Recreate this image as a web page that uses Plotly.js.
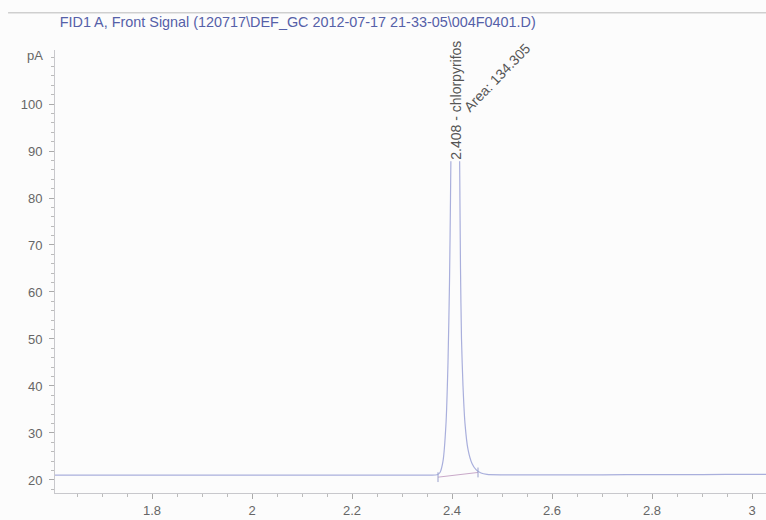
<!DOCTYPE html>
<html>
<head>
<meta charset="utf-8">
<script src="https://cdn.plot.ly/plotly-3.0.1.min.js"></script>
<style>html,body{margin:0;padding:0;background:#fcfcfc;}#chart{width:766px;height:520px;}</style>
</head>
<body>
<div id="chart"></div>
<script>
// Signal trace (retention time in min, signal in pA)
const timeMin = [1.606, 1.70, 1.80, 1.90, 2.00, 2.10, 2.20, 2.30, 2.35, 2.370, 2.376, 2.382, 2.388, 2.392, 2.395, 2.397, 2.399, 2.402, 2.406, 2.409, 2.412, 2.414, 2.4155, 2.417, 2.419, 2.422, 2.426, 2.432, 2.440, 2.448, 2.458, 2.470, 2.50, 2.60, 2.70, 2.80, 2.90, 3.00, 3.03];
const signalPA = [21.05, 21.05, 21.05, 21.05, 21.05, 21.05, 21.05, 21.05, 21.05, 21.1, 21.6, 24, 32, 45, 62, 80, 100, 120, 132, 133, 125, 105, 85, 65, 50, 40, 32, 26.5, 23.5, 22.2, 21.5, 21.2, 21.1, 21.1, 21.1, 21.15, 21.15, 21.2, 21.2];
// Integration baseline of the peak
const intBaseX = [2.372, 2.452];
const intBaseY = [20.6, 21.6];
// Peak annotation
const peakRT = 2.408;
const peakName = "chlorpyrifos";
const peakArea = 134.305;
const xTickVals = [1.8, 2, 2.2, 2.4, 2.6, 2.8, 3];
const xTickText = ["1.8", "2", "2.2", "2.4", "2.6", "2.8", "3"];
const yTickVals = [20, 30, 40, 50, 60, 70, 80, 90, 100];
const yTickText = ["20", "30", "40", "50", "60", "70", "80", "90", "100"];
const titleText = "FID1 A, Front Signal (120717\\DEF_GC 2012-07-17 21-33-05\\004F0401.D)";
const yUnit = "pA";

const lineCol = "#a9afdc";
const traces = [
  {x: timeMin, y: signalPA, type: "scatter", mode: "lines",
   line: {color: lineCol, width: 1.2, shape: "spline", smoothing: 0.6}, hoverinfo: "x+y"},
  {x: intBaseX, y: intBaseY, type: "scatter", mode: "lines+markers",
   line: {color: "#c9a9c9", width: 1},
   marker: {symbol: "line-ns-open", size: 7, color: "#9aa0cc", line: {width: 1, color: "#9aa0cc"}}}
];

const layout = {
  width: 766, height: 520,
  margin: {l: 55, r: 0, t: 50, b: 27},
  paper_bgcolor: "#fcfcfc", plot_bgcolor: "#fcfcfc",
  showlegend: false,
  font: {family: "Liberation Sans, Arial, sans-serif", size: 13, color: "#666"},
  title: {text: titleText, xref: "container", x: 0.078, xanchor: "left", yref: "container", y: 0.958, yanchor: "middle",
          font: {family: "Liberation Sans, Arial, sans-serif", size: 14.4, color: "#5560a8"}},
  xaxis: {range: [1.606, 3.028], showgrid: false, zeroline: false, showline: true, linecolor: "#c8c8cc", linewidth: 1,
          tickmode: "array", tickvals: xTickVals, ticktext: xTickText, ticks: "outside", ticklen: 5, tickcolor: "#aaa",
          ticklabelstandoff: 0, tickfont: {size: 13, color: "#666"},
          minor: {dtick: 0.05, tick0: 0, ticks: "outside", ticklen: 3, tickcolor: "#bbb", showgrid: false}},
  yaxis: {range: [17.23, 111.49], showgrid: false, zeroline: false, showline: true, linecolor: "#c8c8cc", linewidth: 1,
          tickmode: "array", tickvals: yTickVals, ticktext: yTickText, ticks: "outside", ticklen: 5, tickcolor: "#aaa",
          ticklabelstandoff: 4, tickfont: {size: 13, color: "#666"},
          minor: {dtick: 2, tick0: 0, ticks: "outside", ticklen: 3, tickcolor: "#bbb", showgrid: false}},
  annotations: [
    {xref: "paper", x: 0, xanchor: "right", xshift: -10, yref: "y", y: 110.4, yanchor: "middle",
     text: yUnit, showarrow: false, font: {size: 13, color: "#666"}},
    {x: peakRT, y: 100.7, text: peakRT.toFixed(3) + " - " + peakName, textangle: -90, showarrow: false,
     bgcolor: "#fcfcfc", font: {size: 14, color: "#555"}},
    {x: 2.489, y: 105.6, text: "Area: " + peakArea.toFixed(3), textangle: -46, showarrow: false,
     font: {size: 14, color: "#555"}}
  ],
  shapes: [
    {type: "line", xref: "paper", yref: "paper", x0: -0.066, x1: 1, y0: 1.084, y1: 1.084,
     line: {color: "#cfcfcf", width: 1.5}}
  ]
};

Plotly.newPlot("chart", traces, layout, {displayModeBar: false, staticPlot: true});
</script>
</body>
</html>
